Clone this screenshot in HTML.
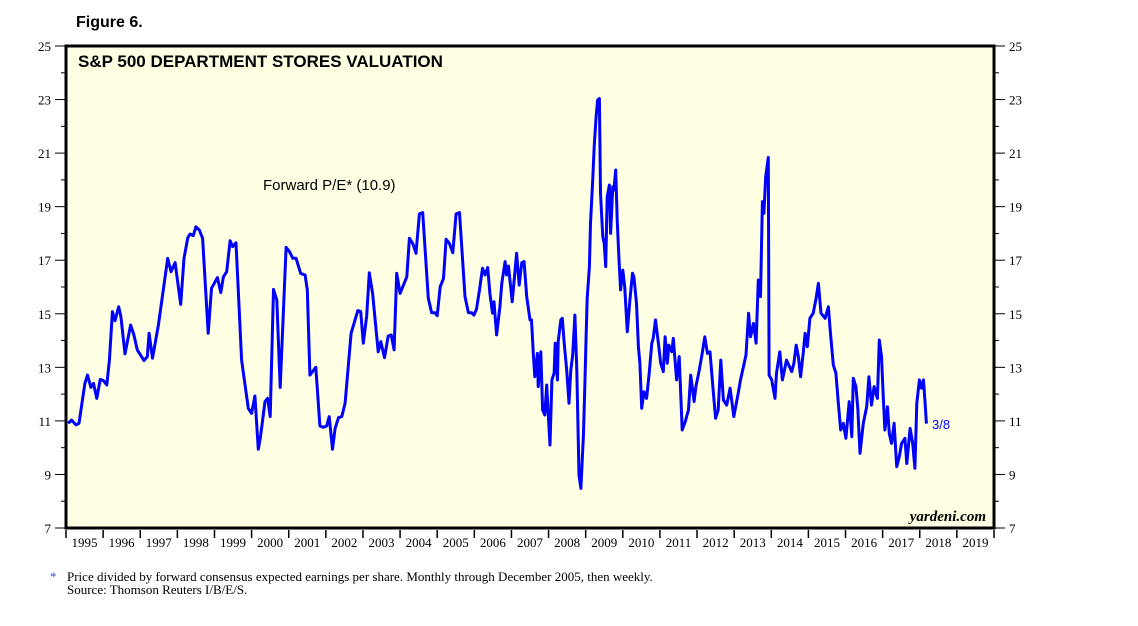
<!DOCTYPE html>
<html><head><meta charset="utf-8">
<style>
html,body{margin:0;padding:0;background:#fff;}
body{width:1138px;height:621px;overflow:hidden;}
svg text{font-family:"Liberation Sans",sans-serif;}
.serif{font-family:"Liberation Serif",serif !important;}
</style></head>
<body>
<svg id="chart" width="1138" height="621" xmlns="http://www.w3.org/2000/svg">
  <text x="76" y="27" font-size="16" font-weight="bold">Figure 6.</text>
  <rect x="66" y="46" width="928" height="482" fill="#ffffe3"/>
  <g id="grid"></g>
  <path id="line" fill="none" stroke="#0000ff" stroke-width="3" stroke-linejoin="round"/>
  <rect x="66" y="46" width="928" height="482" fill="none" stroke="#000" stroke-width="3"/>
  <text x="78" y="67" font-size="17" font-weight="bold">S&amp;P 500 DEPARTMENT STORES VALUATION</text>
  <text x="263" y="190" font-size="15">Forward P/E* (10.9)</text>
  <text x="932" y="429" font-size="13" fill="#0000ff">3/8</text>
  <text class="serif" x="986" y="521" font-size="15" font-style="italic" font-weight="bold" text-anchor="end">yardeni.com</text>
  <text class="serif" x="50" y="581" font-size="13" fill="#3355cc">*</text>
  <text class="serif" x="67" y="581" font-size="13">Price divided by forward consensus expected earnings per share. Monthly through December 2005, then weekly.</text>
  <text class="serif" x="67" y="594" font-size="13">Source: Thomson Reuters I/B/E/S.</text>
</svg>
<script>
const dates = [1995.06,1995.15,1995.27,1995.35,1995.51,1995.58,1995.67,1995.74,1995.83,1995.92,1996.01,1996.10,1996.17,1996.25,1996.32,1996.42,1996.48,1996.59,1996.74,1996.83,1996.92,1997.10,1997.19,1997.24,1997.33,1997.49,1997.74,1997.83,1997.94,1998.09,1998.18,1998.28,1998.34,1998.43,1998.50,1998.59,1998.68,1998.83,1998.92,1999.08,1999.17,1999.24,1999.33,1999.42,1999.49,1999.58,1999.73,1999.91,2000.00,2000.09,2000.18,2000.24,2000.36,2000.43,2000.50,2000.59,2000.68,2000.77,2000.93,2001.02,2001.11,2001.20,2001.32,2001.44,2001.50,2001.57,2001.73,2001.84,2001.93,2002.02,2002.09,2002.18,2002.25,2002.34,2002.43,2002.52,2002.68,2002.86,2002.94,2003.01,2003.10,2003.17,2003.26,2003.41,2003.48,2003.58,2003.68,2003.76,2003.84,2003.91,2004.00,2004.18,2004.25,2004.34,2004.43,2004.52,2004.61,2004.76,2004.85,2004.94,2005.00,2005.08,2005.17,2005.24,2005.33,2005.42,2005.51,2005.60,2005.75,2005.84,2005.93,2005.99,
2006.06,2006.14,2006.22,2006.29,2006.36,2006.42,2006.49,2006.53,2006.60,2006.69,2006.74,2006.83,2006.87,2006.92,2007.02,2007.14,2007.21,2007.28,2007.34,2007.41,2007.50,
2007.54,2007.59,2007.63,2007.70,2007.72,2007.79,2007.84,2007.90,2007.95,2007.99,2008.04,2008.09,2008.15,2008.18,2008.24,2008.26,2008.33,2008.37,2008.42,2008.49,2008.55,2008.60,2008.65,2008.71,2008.76,2008.82,2008.87,2008.94,2008.98,2009.01,2009.04,2009.10,2009.13,2009.19,2009.23,2009.28,2009.32,2009.37,2009.40,2009.46,2009.50,2009.54,2009.58,2009.64,2009.67,2009.73,2009.76,2009.81,2009.85,2009.90,2009.94,2010.00,2010.05,2010.12,2010.19,2010.26,2010.30,2010.37,2010.42,2010.46,2010.51,2010.57,2010.64,2010.71,2010.78,2010.82,2010.88,2010.96,2011.02,2011.09,2011.14,2011.20,2011.24,2011.32,2011.36,2011.45,2011.52,2011.60,2011.68,2011.77,2011.83,2011.92,2011.97,2012.06,2012.14,2012.21,2012.28,2012.35,2012.44,2012.50,2012.57,2012.64,2012.71,2012.80,2012.89,2012.99,2013.11,2013.17,2013.25,2013.32,2013.39,2013.44,2013.52,2013.59,2013.65,2013.71,2013.76,2013.80,2013.85,2013.92,2013.94,2014.01,2014.10,2014.14,2014.23,2014.30,2014.41,2014.55,2014.61,2014.67,2014.73,2014.79,2014.86,2014.91,2014.97,2015.04,2015.13,2015.20,2015.27,2015.34,2015.45,2015.54,2015.58,2015.67,2015.74,2015.81,2015.87,2015.94,2016.01,2016.10,2016.17,2016.21,2016.28,2016.33,2016.39,2016.48,2016.57,2016.63,2016.70,2016.77,2016.86,2016.91,2016.97,2017.02,2017.06,2017.13,2017.18,2017.24,2017.31,2017.38,2017.45,2017.51,2017.60,2017.65,2017.74,2017.81,2017.87,2017.92,2017.99,2018.05,2018.10,2018.14,2018.18];
const peValues = [10.91,11.03,10.85,10.91,12.40,12.71,12.25,12.40,11.84,12.55,12.50,12.34,13.27,15.08,14.74,15.26,14.89,13.50,14.58,14.21,13.65,13.25,13.40,14.27,13.34,14.58,17.07,16.57,16.91,15.35,17.07,17.84,17.98,17.92,18.25,18.13,17.82,14.27,15.95,16.35,15.79,16.38,16.57,17.73,17.51,17.65,13.27,11.47,11.28,11.93,9.94,10.41,11.72,11.84,11.16,15.91,15.51,12.25,17.48,17.32,17.07,17.07,16.51,16.45,15.89,12.71,13.00,10.81,10.76,10.81,11.16,9.94,10.72,11.12,11.16,11.66,14.27,15.12,15.08,13.90,14.92,16.53,15.76,13.58,13.96,13.36,14.17,14.21,13.65,16.51,15.76,16.38,17.82,17.63,17.26,18.73,18.78,15.58,15.04,15.04,14.93,16.01,16.32,17.78,17.63,17.28,18.73,18.78,15.64,15.04,15.04,14.95,
15.17,15.89,16.70,16.45,16.73,15.76,15.02,15.45,14.21,15.26,16.14,16.95,16.45,16.78,15.45,17.26,16.07,16.91,16.95,15.64,14.77,
14.77,13.52,12.65,13.52,12.28,13.58,11.41,11.22,12.34,11.28,10.10,12.53,12.78,13.90,12.53,13.96,14.77,14.83,13.90,12.90,11.66,12.90,13.46,14.95,12.90,8.98,8.48,10.53,12.40,14.14,15.58,16.76,18.38,19.99,21.24,22.36,22.98,23.04,19.50,17.88,17.63,16.76,19.37,19.81,18.00,19.75,19.62,20.37,18.50,16.95,15.89,16.63,16.01,14.33,15.51,16.51,16.38,15.39,13.77,13.15,11.47,12.09,11.84,12.78,13.90,14.08,14.77,13.90,13.15,12.84,14.14,13.15,13.83,13.58,14.08,12.53,13.40,10.66,10.97,11.41,12.71,11.72,12.28,12.90,13.52,14.14,13.52,13.58,12.03,11.10,11.41,13.27,11.78,11.59,12.22,11.16,12.03,12.53,13.02,13.46,15.02,14.14,14.64,13.90,16.26,15.64,19.19,18.75,20.12,20.84,12.71,12.53,11.84,12.78,13.58,12.53,13.27,12.84,13.15,13.83,13.40,12.65,13.52,14.27,13.77,14.83,15.02,15.51,16.14,15.02,14.83,15.26,14.52,13.09,12.78,11.59,10.66,10.91,10.35,11.72,10.41,12.59,12.28,11.47,9.79,10.91,11.53,12.65,11.59,12.28,11.84,14.02,13.40,11.78,10.66,11.53,10.53,10.16,10.91,9.29,9.66,10.16,10.35,9.41,10.72,10.16,9.23,11.66,12.53,12.22,12.53,11.72,10.90];
const yTickLabels = [7,9,11,13,15,17,19,21,23,25];
const xYears = [1995,1996,1997,1998,1999,2000,2001,2002,2003,2004,2005,2006,2007,2008,2009,2010,2011,2012,2013,2014,2015,2016,2017,2018,2019];

const X0=66, X1=994, T0=1995, T1=2020, Y0=528, Y1=46, V0=7, V1=25;
function xs(t){return X0+(t-T0)/(T1-T0)*(X1-X0);}
function ys(v){return Y0-(v-V0)/(V1-V0)*(Y0-Y1);}
const NS='http://www.w3.org/2000/svg';
const g=document.getElementById('grid');
function el(tag,attrs){const e=document.createElementNS(NS,tag);for(const k in attrs)e.setAttribute(k,attrs[k]);return e;}

for(let v=V0; v<=V1; v++){
  const y=ys(v), major=yTickLabels.includes(v);
  const tl=el('line',{x1:X0-(major?11:5),x2:X0,y1:y,y2:y,stroke:'#000','stroke-width':1});
  
  
  g.appendChild(tl);
  const tr=el('line',{x1:X1,x2:X1+(major?11:5),y1:y,y2:y,stroke:'#000','stroke-width':1});
  
  
  g.appendChild(tr);
}
yTickLabels.forEach(v=>{
  const a=el('text',{x:X0-15,y:ys(v)+5,'font-size':13,'text-anchor':'end',class:'serif'});
  a.textContent=v;
  
  
  g.appendChild(a);
  const b=el('text',{x:X1+15,y:ys(v)+5,'font-size':13,class:'serif'});
  b.textContent=v;
  
  
  g.appendChild(b);
});
xYears.forEach(yr=>{
  const x=xs(yr);
  const t=el('line',{x1:x,x2:x,y1:Y0+2,y2:Y0+10,stroke:'#000','stroke-width':1.5});
  
  
  g.appendChild(t);
  const l=el('text',{x:xs(yr+0.5),y:Y0+19,'font-size':13,'text-anchor':'middle',class:'serif'});
  l.textContent=yr;
  
  
  g.appendChild(l);
});
const endTick=el('line',{x1:X1,x2:X1,y1:Y0+2,y2:Y0+10,stroke:'#000','stroke-width':1.5});


g.appendChild(endTick);

let d='';
dates.forEach((t,i)=>{d+=(i?'L':'M')+xs(t).toFixed(1)+','+ys(peValues[i]).toFixed(1);});
document.getElementById('line').setAttribute('d',d);
</script>
</body></html>
